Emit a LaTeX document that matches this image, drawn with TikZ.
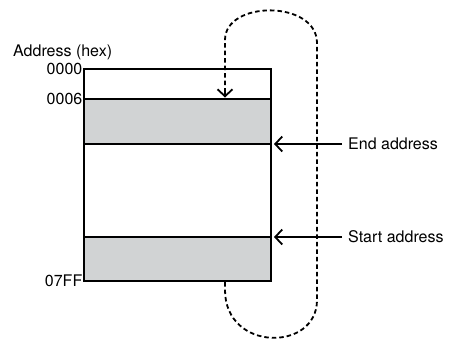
\documentclass[tikz,border=0pt]{standalone}
\usepackage{fontspec}
\setmainfont{TeX Gyre Heros}
\usetikzlibrary{arrows.meta,positioning}
\definecolor{cellgray}{HTML}{D1D3D4}

\begin{document}
\begin{tikzpicture}[x=1pt,y=-1pt,
  font=\fontsize{16}{19}\selectfont,
  cell/.style={draw,line width=1.6pt,minimum width=187pt,inner sep=0pt,outer sep=0pt,anchor=north west},
  addr/.style={anchor=east,inner sep=1.5pt},
  ptr/.style={line width=1.8pt,-{Straight Barb[length=7pt,width=15pt,line width=1.8pt]}},
  loopline/.style={line width=1.8pt,dash pattern=on 4.5pt off 3pt}]
  \useasboundingbox (0,0) rectangle (449,341);
  % memory cells
  \node[cell,minimum height=30pt] (top) at (84,69) {};
  \node[cell,fill=cellgray,minimum height=45pt] (endblk) at (84,99) {};
  \node[cell,minimum height=93pt] (free) at (84,144) {};
  \node[cell,fill=cellgray,minimum height=44pt] (startblk) at (84,237) {};
  \draw[line width=2.1pt] (top.north west) rectangle (startblk.south east);
  % addresses
  \node[anchor=west,inner sep=0pt] (head) at (13,52) {Address (hex)};
  \node[addr] (a0) at (top.north west) {0000};
  \node[addr] (a6) at (endblk.north west) {0006};
  \node[addr] (aF) at (startblk.south west) {07FF};
  % pointers
  \node[anchor=west,inner sep=0pt] (endlbl) at (348,144) {End address};
  \node[anchor=west,inner sep=0pt] (startlbl) at (348,237) {Start address};
  \draw[ptr,shorten >=3pt] (endlbl.west) ++(-6,0) -- (endblk.south east);
  \draw[ptr,shorten >=3pt] (startlbl.west) ++(-6,0) -- (startblk.north east);
  % wrap-around loop
  \coordinate (out) at (225,282);
  \coordinate (in) at (225,99);
  \draw[loopline] (out) -- (225,290) .. controls (225,352) and (317,352) .. (317,300)
    -- (317,43) .. controls (317,0) and (225,0) .. (225,40) -- ([yshift=8pt]in);
  \draw[ptr] ([yshift=10pt]in) -- ([yshift=1.5pt]in);
\end{tikzpicture}
\end{document}
